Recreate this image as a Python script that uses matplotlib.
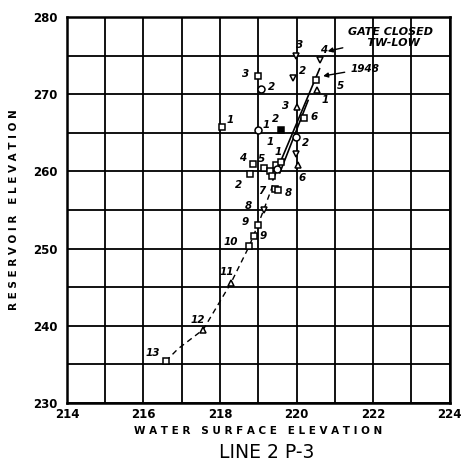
import matplotlib
matplotlib.use("Agg")
import matplotlib.pyplot as plt
from matplotlib.ticker import MultipleLocator, FuncFormatter

# observed points: water surface elevation, reservoir elevation
sq_x = [218.05, 219.0, 218.78, 218.87, 220.5, 220.2, 219.43, 219.52, 218.99, 218.88, 218.76, 216.58,
        219.15, 219.3, 219.45, 219.6, 219.35]
sq_y = [265.7, 272.3, 259.7, 261.0, 271.8, 266.9, 257.7, 257.6, 253.1, 251.6, 250.3, 235.4,
        260.5, 260.0, 260.8, 261.2, 259.4]
sq_lab = ["1", "3", "2", "4", "", "6", "7", "8", "9", "9", "10", "13", "5", "", "", "1", ""]

ci_x = [219.08, 219.0, 219.98, 219.5]
ci_y = [270.7, 265.3, 264.4, 260.3]
ci_lab = ["2", "1", "2", ""]

tdn_x = [219.98, 219.9, 220.6, 219.98, 219.14]
tdn_y = [274.9, 272.1, 274.5, 262.3, 255.0]
tdn_lab = ["3", "2", "4", "", "8"]

tup_x = [220.52, 220.0, 218.28, 217.56, 220.03]
tup_y = [270.5, 268.3, 245.5, 239.5, 260.8]
tup_lab = ["5", "3", "11", "12", "6"]

fsq_x = [219.6]
fsq_y = [265.4]
fsq_lab = ["2"]

# trend lines
dash_x = [216.58, 216.9, 217.56, 218.28, 218.76, 218.99, 219.14, 219.4]
dash_y = [235.4, 237.0, 239.5, 245.5, 250.3, 253.1, 255.0, 258.5]
line1_x = [219.38, 220.6]
line1_y = [258.9, 273.3]
line2_x = [219.56, 220.3]
line2_y = [259.8, 269.2]

# label offsets (points)
sq_off = [(6, 5), (-9, 2), (-8, -8), (-8, 4), (0, 0), (7, 1), (-9, -1), (7, -2), (-9, 2), (7, 0),
          (-13, 3), (-9, 6), (-2, 6), (0, 0), (0, 0), (-2, 7), (0, 0)]
ci_off = [(7, 1), (6, 4), (7, -4), (0, 0)]
tdn_off = [(3, 8), (7, 5), (3, 7), (0, 0), (-11, 3)]
tup_off = [(17, 3), (-8, 1), (-3, 8), (-4, 7), (3, -9)]
fsq_off = [(-4, 8)]

fig = plt.figure(figsize=(4.68, 4.61), dpi=100)
ax = fig.add_axes([0.143, 0.126, 0.818, 0.837])
ax.set_xlim(214, 224)
ax.set_ylim(230, 280)

ax.xaxis.set_major_locator(MultipleLocator(1))
ax.yaxis.set_major_locator(MultipleLocator(5))
ax.xaxis.set_major_formatter(FuncFormatter(lambda v, p: f"{v:.0f}" if round(v) % 2 == 0 else ""))
ax.yaxis.set_major_formatter(FuncFormatter(lambda v, p: f"{v:.0f}" if round(v) % 10 == 0 else ""))
ax.tick_params(length=0, labelsize=8.5, pad=4)
ax.tick_params(axis="y", pad=7)
for t in ax.get_xticklabels() + ax.get_yticklabels():
    t.set_fontweight("bold")
ax.grid(True, color="black", lw=1.3)
for s in ax.spines.values():
    s.set_linewidth(1.8)

ax.plot(dash_x, dash_y, color="black", lw=1.0, ls=(0, (4, 3)))
ax.plot(line1_x, line1_y, color="black", lw=1.2)
ax.plot(line2_x, line2_y, color="black", lw=1.2)

groups = [
    (sq_x, sq_y, sq_lab, sq_off, "s", "none"),
    (ci_x, ci_y, ci_lab, ci_off, "o", "none"),
    (tdn_x, tdn_y, tdn_lab, tdn_off, "v", "none"),
    (tup_x, tup_y, tup_lab, tup_off, "^", "none"),
    (fsq_x, fsq_y, fsq_lab, fsq_off, "s", "black"),
]
for xs, ys, labs, offs, m, fc in groups:
    ax.plot(xs, ys, ls="none", marker=m, ms=5, mfc=fc if fc != "none" else "white",
            mec="black", mew=1.1, zorder=3)
    for x, y, lab, off in zip(xs, ys, labs, offs):
        if lab:
            ax.annotate(lab, (x, y), xytext=off, textcoords="offset points",
                        ha="center", va="center", fontsize=7.5, style="italic", fontweight="bold")

# loose "1" marks
ax.text(220.74, 269.2, "1", fontsize=7.5, style="italic", fontweight="bold", ha="center", va="center")
ax.text(219.3, 263.8, "1", fontsize=7.5, style="italic", fontweight="bold", ha="center", va="center")

ax.annotate("GATE CLOSED\n     TW-LOW", xy=(220.74, 275.5), xytext=(221.35, 277.4),
            fontsize=8, style="italic", fontweight="bold", ha="left", va="center",
            linespacing=1.1,
            arrowprops=dict(arrowstyle="-|>", color="black", lw=1.0, mutation_scale=7))
ax.annotate("1948", xy=(220.62, 272.3), xytext=(221.4, 273.3),
            fontsize=7.5, style="italic", fontweight="bold", ha="left", va="center",
            arrowprops=dict(arrowstyle="-|>", color="black", lw=1.0, mutation_scale=7))

ax.set_xlabel("W A T E R   S U R F A C E   E L E V A T I O N", fontsize=7.5, labelpad=3,
              fontweight="bold")
ax.set_ylabel("R E S E R V O I R   E L E V A T I O N", fontsize=7.5, labelpad=10,
              fontweight="bold")
fig.text(0.57, 0.006, "LINE 2 P-3", fontsize=13.5, ha="center", va="baseline")

fig.savefig("out.png", dpi=100)
